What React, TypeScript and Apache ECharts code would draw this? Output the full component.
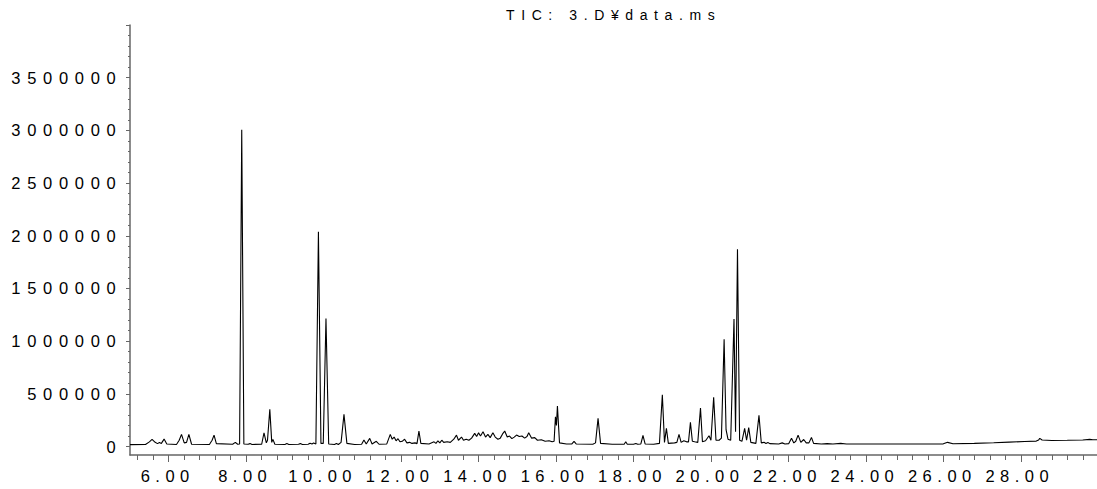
import React, { useEffect, useRef } from "react";
import * as echarts from "echarts";

// Retention time (min) / abundance pairs
const regionEarly: [number, number][] = [
  [5.0, 18000], [5.4, 19000], [5.5, 45000], [5.57, 68000], [5.65, 40000], [5.71, 28000],
  [5.76, 38000], [5.81, 30000], [5.88, 71000], [5.95, 25000], [6.2, 20000], [6.27, 60000],
  [6.33, 116000], [6.4, 35000], [6.46, 40000], [6.52, 116000], [6.59, 22000], [7.05, 20000],
  [7.12, 60000], [7.17, 109000], [7.23, 28000], [7.65, 22000], [7.72, 40000], [7.78, 22000],
  [7.83, 25000], [7.885, 3005000], [7.94, 25000], [8.05, 22000], [8.1, 28000], [8.15, 20000],
  [8.4, 22000], [8.46, 131000], [8.52, 35000], [8.55, 60000], [8.61, 353000], [8.66, 40000],
  [8.69, 68000], [8.74, 22000],
];

const regionMid: [number, number][] = [
  [9.0, 20000], [9.05, 28000], [9.1, 20000], [9.35, 22000], [9.4, 28000], [9.45, 20000],
  [9.6, 22000], [9.65, 32000], [9.7, 25000], [9.74, 35000], [9.8, 25000], [9.865, 2038000],
  [9.93, 30000], [9.99, 30000], [10.06, 1216000], [10.13, 25000], [10.28, 20000], [10.33, 30000],
  [10.38, 20000], [10.45, 40000], [10.525, 305000], [10.6, 30000], [10.8, 20000], [10.98, 22000],
  [11.04, 62000], [11.1, 25000], [11.19, 78000], [11.25, 25000], [11.36, 50000], [11.43, 22000],
  [11.63, 25000], [11.72, 116000], [11.77, 70000], [11.82, 90000], [11.87, 55000], [11.92, 75000],
  [11.97, 45000],
];

const regionHump: [number, number][] = [
  [12.03, 50000], [12.09, 70000], [12.15, 35000], [12.22, 40000], [12.28, 30000], [12.36, 35000],
  [12.41, 28000], [12.46, 147000], [12.51, 30000], [12.72, 25000], [12.85, 45000], [12.9, 30000],
  [12.95, 55000], [13.0, 35000], [13.05, 60000], [13.1, 40000], [13.19, 45000], [13.27, 40000],
  [13.36, 70000], [13.43, 109000], [13.48, 60000], [13.56, 90000], [13.61, 60000], [13.68, 70000],
  [13.75, 60000], [13.82, 80000], [13.9, 125000], [13.95, 95000], [14.0, 130000], [14.05, 100000],
  [14.115, 140000], [14.18, 90000], [14.24, 115000], [14.3, 85000], [14.37, 131000], [14.43, 90000],
  [14.5, 70000], [14.56, 80000], [14.62, 120000], [14.675, 147000], [14.74, 90000], [14.8, 100000],
  [14.86, 75000], [14.92, 90000], [14.98, 109000], [15.05, 95000], [15.12, 100000], [15.19, 80000],
  [15.25, 95000], [15.295, 131000], [15.37, 80000], [15.45, 85000], [15.52, 60000], [15.62, 65000],
  [15.72, 50000], [15.82, 55000], [15.9, 45000], [15.95, 50000], [15.985, 283000], [16.01, 200000],
  [16.036, 384000], [16.09, 35000], [16.27, 25000], [16.41, 25000], [16.465, 50000], [16.52, 25000],
];

const regionLate: [number, number][] = [
  [16.95, 22000], [17.02, 35000], [17.085, 267000], [17.15, 30000], [17.45, 22000], [17.76, 22000],
  [17.8, 45000], [17.84, 22000], [18.0, 22000], [18.06, 30000], [18.11, 22000], [18.19, 25000],
  [18.245, 105000], [18.3, 25000], [18.52, 22000], [18.67, 30000], [18.745, 492000], [18.8, 40000],
  [18.85, 172000], [18.9, 30000], [19.06, 35000], [19.12, 40000], [19.175, 116000], [19.23, 40000],
  [19.3, 55000], [19.37, 45000], [19.42, 45000], [19.47, 230000], [19.52, 50000], [19.58, 45000],
  [19.66, 40000], [19.73, 365000], [19.78, 45000], [19.86, 55000], [19.95, 103000], [20.0, 60000],
  [20.07, 467000], [20.13, 60000], [20.21, 60000], [20.27, 80000], [20.34, 1017000], [20.39, 160000],
  [20.44, 70000], [20.51, 60000], [20.595, 1210000], [20.635, 140000], [20.685, 1871000], [20.74, 60000],
  [20.8, 50000], [20.87, 172000], [20.92, 60000], [20.975, 180000], [21.03, 40000], [21.16, 30000],
  [21.24, 296000], [21.3, 35000], [21.37, 40000], [21.42, 30000], [21.47, 38000], [21.52, 28000],
  [21.75, 25000], [21.84, 35000], [21.91, 25000], [22.01, 28000], [22.08, 78000], [22.14, 35000],
  [22.19, 50000], [22.25, 109000], [22.32, 40000], [22.395, 67000], [22.46, 35000], [22.53, 35000],
  [22.595, 87000], [22.65, 30000],
];

const regionTail: [number, number][] = [
  [22.85, 25000], [23.0, 28000], [23.15, 25000], [23.35, 30000], [23.5, 25000], [24.0, 25000],
  [24.5, 24000], [25.0, 24000], [25.5, 25000], [26.0, 26000], [26.11, 40000], [26.25, 27000],
  [26.8, 30000], [27.3, 36000], [27.7, 42000], [28.1, 48000], [28.4, 52000], [28.46, 62000],
  [28.49, 78000], [28.55, 62000], [28.8, 58000], [29.2, 60000], [29.6, 63000], [29.78, 68000],
  [29.86, 64000], [30.1, 65000],
];

const titleText = "TIC: 3.D¥data.ms";
const yTickValues = [0, 500000, 1000000, 1500000, 2000000, 2500000, 3000000, 3500000];
const xLabelStep = 2;
const xMinorStep = 0.4;

const LABEL_FONT = "'Liberation Sans', Arial, sans-serif";
const AXIS_COLOR = "#666666";

const css = `
.tic-chart text { letter-spacing: 5.5px; }
.tic-chart text[text-anchor="end"] { letter-spacing: 6.7px; }
.tic-chart text[text-anchor="start"] { letter-spacing: 6.6px; }
`;

export default function App() {
  const ref = useRef<HTMLDivElement>(null);

  useEffect(() => {
    if (!ref.current) return;
    const chart = echarts.init(ref.current, undefined, { renderer: "svg" });
    const data = [...regionEarly, ...regionMid, ...regionHump, ...regionLate, ...regionTail];
    const pxPerMin = 38.73;
    const plotLeft = 130;
    const plotTop = 25;
    const plotWidth = 967;
    const plotHeight = 430;
    const xMin = 5.0;
    const xMax = xMin + plotWidth / pxPerMin;

    const hiddenX = (gridIndex: number) => ({ type: "value", gridIndex, show: false, min: 0, max: 1 });
    const hiddenY = (gridIndex: number) => ({ type: "value", gridIndex, show: false, min: 0, max: 1 });

    chart.setOption({
      animation: false,
      title: {
        text: titleText,
        left: 506,
        top: 8,
        padding: 0,
        textStyle: { fontFamily: LABEL_FONT, fontSize: 14, fontWeight: "normal", color: "#000" },
      },
      grid: [
        { left: plotLeft, top: plotTop, width: plotWidth, height: plotHeight },
        { left: plotLeft + 0.2 * pxPerMin, top: plotTop, width: 24.4 * pxPerMin, height: plotHeight },
        { left: plotLeft + 1.0 * pxPerMin, top: plotTop, width: 22 * pxPerMin, height: plotHeight },
        { left: plotLeft, top: plotTop, width: plotWidth, height: 421.5 },
      ],
      xAxis: [
        {
          type: "value", gridIndex: 0, min: xMin, max: xMax,
          axisLine: { show: true, onZero: false, lineStyle: { color: AXIS_COLOR, width: 1.5 } },
          axisTick: { show: false }, axisLabel: { show: false }, splitLine: { show: false },
        },
        {
          type: "value", gridIndex: 1, min: 5.2, max: 29.6, interval: xMinorStep,
          axisLine: { show: false, onZero: false },
          axisTick: { show: true, length: 5, lineStyle: { color: AXIS_COLOR, width: 1 } },
          axisLabel: { show: false }, splitLine: { show: false },
        },
        {
          type: "value", gridIndex: 2, min: 6, max: 28, interval: xLabelStep,
          axisLine: { show: false, onZero: false },
          axisTick: { show: true, length: 7, lineStyle: { color: AXIS_COLOR, width: 1 } },
          axisLabel: {
            show: true, margin: 12, fontFamily: LABEL_FONT, fontSize: 16.5, color: "#000",
            padding: [0, 2, 0, 0],
            formatter: (v: number) => v.toFixed(2),
          },
          splitLine: { show: false },
        },
        hiddenX(3),
      ],
      yAxis: [
        {
          type: "value", gridIndex: 0, min: -80000, max: 4000000,
          axisLine: { show: true, onZero: false, lineStyle: { color: AXIS_COLOR, width: 1.5 } },
          axisTick: { show: false }, axisLabel: { show: false }, splitLine: { show: false },
        },
        hiddenY(1),
        hiddenY(2),
        {
          type: "value", gridIndex: 3, min: 0, max: 4000000, interval: 500000,
          axisLine: { show: false, onZero: false },
          axisTick: { show: true, length: 4, lineStyle: { color: AXIS_COLOR, width: 1 } },
          minorTick: { show: true, splitNumber: 5, length: 2, lineStyle: { color: AXIS_COLOR, width: 1 } },
          axisLabel: {
            show: true, margin: 7.5, fontFamily: LABEL_FONT, fontSize: 16.5, color: "#000",
            formatter: (v: number) => (yTickValues.includes(v) ? String(v) : ""),
          },
          splitLine: { show: false },
        },
      ],
      series: [
        {
          type: "line",
          xAxisIndex: 0,
          yAxisIndex: 0,
          data,
          showSymbol: false,
          symbol: "none",
          clip: true,
          lineStyle: { color: "#000", width: 1.1 },
          silent: true,
        },
      ],
    });
    return () => chart.dispose();
  }, []);

  return (
    <>
      <style>{css}</style>
      <div
        ref={ref}
        className="tic-chart"
        style={{ position: "fixed", left: 0, top: 0, width: 1097, height: 489, background: "#fff" }}
      />
    </>
  );
}
